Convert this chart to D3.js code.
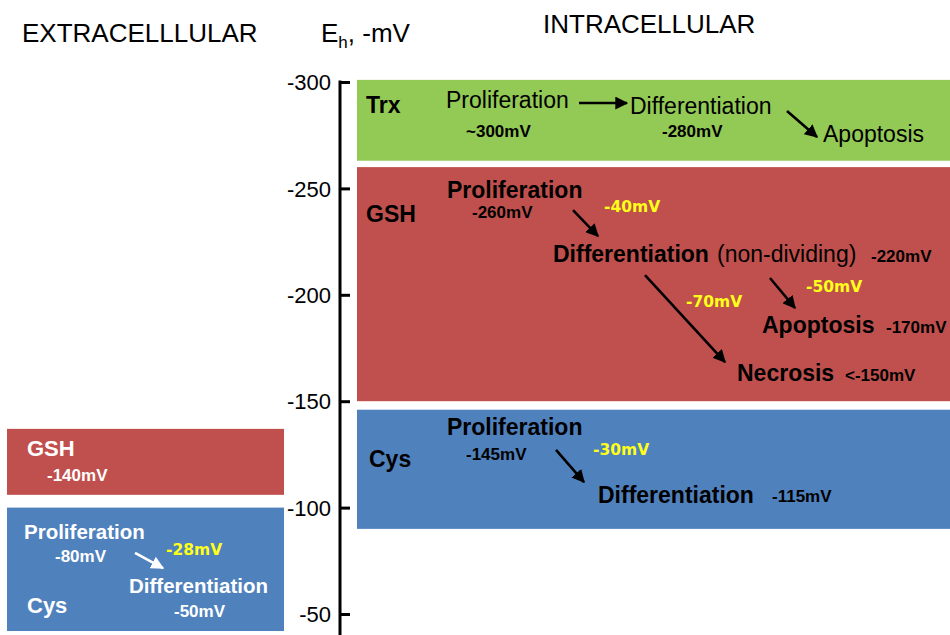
<!DOCTYPE html>
<html lang="en">
<head>
<meta charset="UTF-8" />
<title>Redox potential of thiol systems</title>
<script src="https://d3js.org/d3.v7.min.js"></script>
<style>
  body { margin: 0; background: #fff; }
  svg { display: block; font-family: "Liberation Sans", Arial, sans-serif; }
  .axis path, .axis line { stroke: #000; stroke-width: 3px; }
  .axis text { font-size: 22px; fill: #000; font-family: "Liberation Sans", Arial, sans-serif; }
  .delta { font-family: "DejaVu Sans", Verdana, sans-serif; font-size: 15.5px; font-weight: bold; fill: #ffff1a; }
</style>
</head>
<body>
<div id="chart"></div>
<script>
// redox systems: name, compartment, Eh range (mV) covered by the box
const boxNames = ['Trx', 'GSH', 'Cys', 'GSH', 'Cys'];
const boxSide = ['intra', 'intra', 'intra', 'extra', 'extra'];
const boxTop = [-301, -260, -146, -137, -100];
const boxBottom = [-263, -150, -90, -106, -42];
const boxColor = ['#93c955', '#c0504d', '#4f81bd', '#c0504d', '#4f81bd'];

const ticks = [-300, -250, -200, -150, -100, -50];

// labels: text, x (px), Eh (mV) of baseline, style
const labelText = [
  'Trx', 'Proliferation', '~300mV', 'Differentiation', '-280mV', 'Apoptosis',
  'GSH', 'Proliferation', '-260mV', '-40mV', 'Differentiation', '(non-dividing)', '-220mV',
  '-50mV', '-70mV', 'Apoptosis', '-170mV', 'Necrosis', '<-150mV',
  'Cys', 'Proliferation', '-145mV', '-30mV', 'Differentiation', '-115mV',
  'GSH', '-140mV',
  'Proliferation', '-80mV', '-28mV', 'Differentiation', 'Cys', '-50mV'
];
const labelX = [
  366, 446, 466, 630, 662, 823,
  366, 447, 472, 604, 553, 717, 871,
  806, 686, 762, 886, 737, 845,
  369, 447, 466, 593, 598, 772,
  27, 47,
  24, 55, 166, 129, 27, 174
];
const labelEh = [
  -285.4, -287.8, -274.2, -285.0, -274.2, -271.8,
  -234.2, -245.5, -236.1, -238.9, -215.4, -215.4, -215.4,
  -201.3, -194.3, -182.0, -182.0, -159.5, -159.5,
  -119.1, -134.1, -122.4, -124.7, -102.2, -102.4,
  -124.2, -112.5,
  -85.2, -74.4, -77.7, -59.9, -50.5, -48.6
];
const labelKind = [
  'bold', 'reg', 'small', 'reg', 'small', 'reg',
  'bold', 'bold', 'small', 'delta', 'bold', 'reg', 'small',
  'delta', 'delta', 'bold', 'small', 'bold', 'small',
  'bold', 'bold', 'small', 'delta', 'bold', 'small',
  'wname', 'wsmall',
  'wbold', 'wsmall', 'delta', 'wbold', 'wname', 'wsmall'
];

// arrows: x1, Eh1, x2, Eh2, colour
const arrowX1 = [579, 787, 573, 770, 645, 556, 135];
const arrowEh1 = [-290.1, -286.4, -239.8, -207.9, -209.3, -127.1, -78.7];
const arrowX2 = [627, 817, 598, 795, 725, 584, 163];
const arrowEh2 = [-290.1, -274.2, -227.6, -193.8, -168.4, -112.0, -71.6];
const arrowColor = ['#000', '#000', '#000', '#000', '#000', '#000', '#fff'];

const W = 950, H = 635;
const svg = d3.select('#chart').append('svg').attr('width', W).attr('height', H);

const x = d3.scaleLinear().domain([0, W]).range([0, W]);
const y = d3.scaleLinear().domain([-300, -50]).range([82, 614]);

const sideX = { intra: [357, 950], extra: [7, 284] };

// boxes
svg.selectAll('rect.box')
  .data(boxNames.map((n, i) => ({ n, side: boxSide[i], t: boxTop[i], b: boxBottom[i], c: boxColor[i] })))
  .enter().append('rect')
  .attr('class', 'box')
  .attr('x', d => x(sideX[d.side][0]))
  .attr('width', d => x(sideX[d.side][1]) - x(sideX[d.side][0]))
  .attr('y', d => y(d.t))
  .attr('height', d => y(d.b) - y(d.t))
  .attr('fill', d => d.c);

// axis
const axis = svg.append('g')
  .attr('class', 'axis')
  .attr('transform', `translate(${x(340)},0)`)
  .call(d3.axisRight(y).tickValues(ticks).tickSize(10).tickSizeOuter(0).tickFormat(d => String(d)));
axis.select('.domain').attr('d', `M0,${y(-300) - 1.5}V${H}`);
axis.selectAll('.tick text').attr('x', -9).attr('dy', '0.35em').attr('text-anchor', 'end');

// headers
svg.append('text').attr('x', 22).attr('y', 42)
  .style('font-size', '26px').text('EXTRACELLLULAR');
const eh = svg.append('text').attr('x', 321).attr('y', 42).style('font-size', '26px');
eh.append('tspan').text('E');
eh.append('tspan').attr('dy', 6).style('font-size', '17px').text('h');
eh.append('tspan').attr('dy', -6).text(', -mV');
svg.append('text').attr('x', 543).attr('y', 33).style('font-size', '26px').text('INTRACELLULAR');

// arrow heads
const defs = svg.append('defs');
['#000', '#fff'].forEach((c, i) => {
  defs.append('marker')
    .attr('id', 'ah' + i)
    .attr('viewBox', '0 0 10 10')
    .attr('refX', 9).attr('refY', 5)
    .attr('markerWidth', 5).attr('markerHeight', 5)
    .attr('markerUnits', 'strokeWidth')
    .attr('orient', 'auto')
    .append('path').attr('d', 'M0,0L10,5L0,10Z').attr('fill', c);
});

svg.selectAll('line.arrow')
  .data(arrowX1.map((v, i) => ({ x1: v, y1: arrowEh1[i], x2: arrowX2[i], y2: arrowEh2[i], c: arrowColor[i] })))
  .enter().append('line')
  .attr('class', 'arrow')
  .attr('x1', d => x(d.x1)).attr('y1', d => y(d.y1))
  .attr('x2', d => x(d.x2)).attr('y2', d => y(d.y2))
  .attr('stroke', d => d.c)
  .attr('stroke-width', 2.6)
  .attr('marker-end', d => `url(#ah${d.c === '#fff' ? 1 : 0})`);

// labels
const kindStyle = {
  reg:    { size: 23, weight: 'normal', fill: '#000' },
  bold:   { size: 23, weight: 'bold', fill: '#000' },
  small:  { size: 17, weight: 'bold', fill: '#000' },
  wname:  { size: 22, weight: 'bold', fill: '#fff' },
  wbold:  { size: 20.5, weight: 'bold', fill: '#fff' },
  wsmall: { size: 17, weight: 'bold', fill: '#fff' }
};
svg.selectAll('text.lbl')
  .data(labelText.map((t, i) => ({ t, x: labelX[i], v: labelEh[i], k: labelKind[i] })))
  .enter().append('text')
  .attr('class', d => d.k === 'delta' ? 'lbl delta' : 'lbl')
  .attr('x', d => x(d.x))
  .attr('y', d => y(d.v))
  .style('font-size', d => d.k === 'delta' ? null : kindStyle[d.k].size + 'px')
  .style('font-weight', d => d.k === 'delta' ? null : kindStyle[d.k].weight)
  .attr('fill', d => d.k === 'delta' ? null : kindStyle[d.k].fill)
  .text(d => d.t);
</script>
</body>
</html>
